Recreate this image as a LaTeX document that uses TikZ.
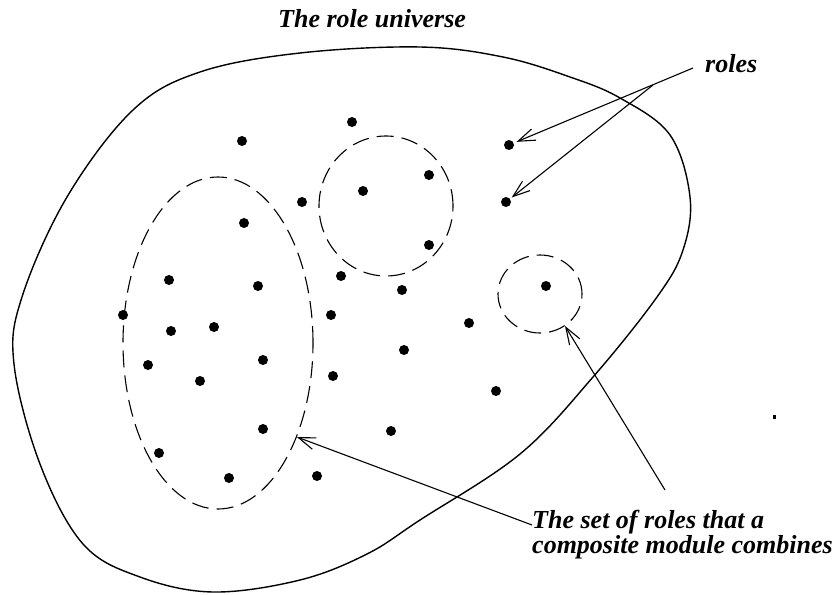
\documentclass[tikz,border=0pt]{standalone}
\usepackage{fontspec}
\setmainfont{Liberation Serif}
\usetikzlibrary{arrows.meta,shapes.geometric}

\begin{document}
\begin{tikzpicture}[
    x=1pt, y=-1pt,
    role/.style={circle, fill=black, inner sep=0pt, minimum size=10pt},
    roleset/.style={ellipse, draw, line width=1.1pt, dash pattern=on 17pt off 8pt, inner sep=0pt},
    lbl/.style={font=\fontsize{26}{23}\selectfont\bfseries\itshape, inner sep=0pt},
    arr/.style={-{Straight Barb[length=17pt,width=12pt]}, line width=1.1pt}
]
    \useasboundingbox (0,0) rectangle (840,594);

    % the universe
    \draw[line width=1.4pt] plot[smooth cycle, tension=0.6] coordinates {
        (420,47) (503,57) (570,77) (620,98) (670,135) (690,197) (683,250)
        (657,297) (593,377) (520,454) (420,520) (367,554) (300,580) (213,592)
        (140,577) (83,544) (40,464) (14,364) (22,297) (67,197) (133,110)
        (200,72) (300,53)};
    \node[lbl, anchor=base west] (title) at (278,28) {The role universe};

    % role sets
    \node[roleset, minimum width=190pt, minimum height=332pt] (setA) at (218,343) {};
    \node[roleset, minimum width=134pt, minimum height=140pt] (setB) at (386,206) {};
    \node[roleset, minimum width=84pt, minimum height=78pt] (setC) at (540,294) {};

    % roles
    \node[role] (r1) at (242,141) {};  \node[role] (r2) at (352,122) {};
    \node[role] (r3) at (509,145) {};  \node[role] (r4) at (363,191) {};
    \node[role] (r5) at (429,175) {};  \node[role] (r6) at (302,202) {};
    \node[role] (r7) at (506,202) {};  \node[role] (r8) at (244,223) {};
    \node[role] (r9) at (429,245) {};  \node[role] (r10) at (341,276) {};
    \node[role] (r11) at (169,280) {}; \node[role] (r12) at (258,286) {};
    \node[role] (r13) at (402,290) {}; \node[role] (r14) at (546,286) {};
    \node[role] (r15) at (123,315) {}; \node[role] (r16) at (331,315) {};
    \node[role] (r17) at (171,331) {}; \node[role] (r18) at (214,327) {};
    \node[role] (r19) at (469,323) {}; \node[role] (r20) at (148,365) {};
    \node[role] (r21) at (263,360) {}; \node[role] (r22) at (404,350) {};
    \node[role] (r23) at (200,381) {}; \node[role] (r24) at (333,376) {};
    \node[role] (r25) at (496,391) {}; \node[role] (r26) at (263,429) {};
    \node[role] (r27) at (391,431) {}; \node[role] (r28) at (159,453) {};
    \node[role] (r29) at (229,478) {}; \node[role] (r30) at (317,476) {};
    \fill (773,415) rectangle (776,419);

    % labels
    \node[lbl, anchor=base west] (roles) at (705,72) {roles};
    \node[lbl, anchor=north west, align=left] (setlbl) at (532,510)
        {The set of roles that a\\composite module combines};

    \coordinate (rolesfoot) at (693,68);
    \coordinate (rolesfork) at (653,85);
    \coordinate (setfoot) at (532,525);
    \coordinate (setknee) at (665,490);

    \draw[arr, shorten >=3pt] (rolesfoot) -- (r3);
    \draw[arr, shorten >=2pt] (rolesfork) -- (r7);
    \draw[arr] (setfoot) -- (setA.-50);
    \draw[arr] (setknee) -- (setC.-52);
\end{tikzpicture}
\end{document}
